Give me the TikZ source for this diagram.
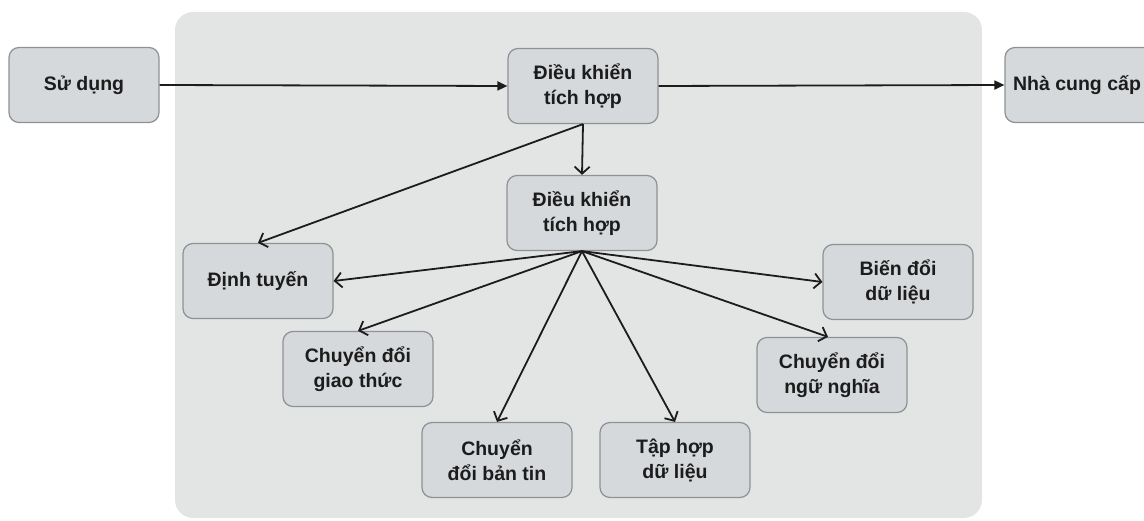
\documentclass[tikz,border=0pt]{standalone}
\usepackage{fontspec}
\setmainfont{Liberation Sans}
\usetikzlibrary{arrows.meta}
\definecolor{panel}{HTML}{E3E5E5}
\definecolor{boxfill}{HTML}{D6D9DB}
\definecolor{boxline}{HTML}{8F9294}
\definecolor{ink}{HTML}{1C1C1C}
\begin{document}
\begin{tikzpicture}[x=1pt,y=-1pt,
  box/.style={draw=boxline, fill=boxfill, rounded corners=10pt, line width=1.2pt,
    minimum width=150pt, minimum height=75pt, align=center, inner sep=0pt,
    font=\fontsize{19.5}{25}\selectfont\bfseries, text=ink},
  feed/.style={-{Triangle[length=10pt,width=9pt]}, line width=1.8pt, draw=ink},
  link/.style={-{Straight Barb[length=7pt,width=15pt]}, line width=1.8pt, draw=ink}]
  \useasboundingbox (0,0) rectangle (1144,521);
  % shaded panel behind the integration layer
  \fill[panel, rounded corners=18pt] (175,12) rectangle (982,518);

  % nodes
  \node[box] (use)  at (84,85)   {Sử dụng};
  \node[box] (ctl1) at (583,86)  {Điều khiển\\tích hợp};
  \node[box] (prov) at (1080,85) {\hspace*{-6pt}Nhà cung cấp};
  \node[box] (ctl2) at (582,213) {Điều khiển\\tích hợp};
  \node[box] (route) at (258,281) {Định tuyến};
  \node[box] (proto) at (358,369) {Chuyển đổi\\giao thức};
  \node[box] (msg)  at (497,460) {Chuyển\\đổi bản tin};
  \node[box] (agg)  at (675,460) {Tập hợp\\dữ liệu};
  \node[box] (xform) at (898,282) {Biến đổi\\dữ liệu};
  \node[box] (sem)  at (832,375) {Chuyển đổi\\ngữ nghĩa};

  % main flow
  \draw[feed] (use.east) -- (ctl1.west);
  \draw[feed] (ctl1.east) -- (prov.west);

  % from the upper controller
  \draw[link] (ctl1.south) -- (ctl2.north);
  \draw[link] (ctl1.south) -- (route.north);

  % from the lower controller
  \draw[link] (ctl2.south) -- (route.east);
  \draw[link] (ctl2.south) -- (proto.north);
  \draw[link] (ctl2.south) -- (msg.north);
  \draw[link] (ctl2.south) -- (agg.north);
  \draw[link] (ctl2.south) -- (xform.west);
  \draw[link] (ctl2.south) -- ([xshift=-4pt]sem.north);
\end{tikzpicture}
\end{document}
